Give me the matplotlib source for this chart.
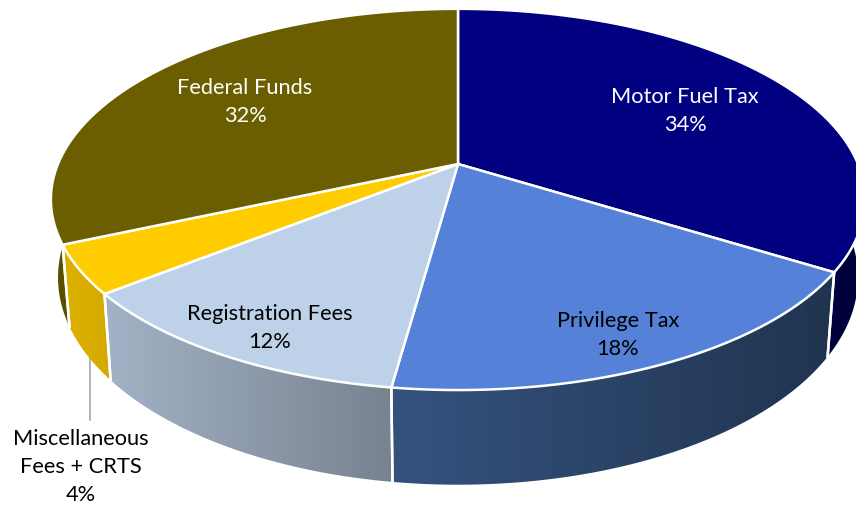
# -*- coding: utf-8 -*-
# 3D look pie: revenue sources
import numpy as np
import matplotlib
matplotlib.use('Agg')
import matplotlib.pyplot as plt
from matplotlib.patches import Polygon

labels = ['Motor Fuel Tax', 'Privilege Tax', 'Registration Fees', 'Miscellaneous\nFees + CRTS', 'Federal Funds']
shares = [33.9, 18.27, 12.1, 4.08, 31.65]
top_colors = ['#000080', '#5582D8', '#BDD2E8', '#FFCC00', '#6B5E00']
wall_left = ['#00003E', '#35527F', '#A3B2C6', '#DDB100', '#5A4F00']
wall_right = ['#00003A', '#20344F', '#788390', '#D4AA00', '#5A4F00']

plt.rcParams['font.family'] = ['Lato', 'DejaVu Sans']

fig = plt.figure(figsize=(8.56, 5.07), dpi=100)
ax = fig.add_axes([0, 0, 1, 1])
ax.axis('off')

K = 0.186  # perspective strength


def project(deg, cy, rx, ry):
    # deg runs clockwise from the back of the disc
    t = np.radians(deg)
    x, y = np.sin(t), np.cos(t)
    w = 1 + K * y
    return np.column_stack([458 + rx * x / w, cy - ry * y / w])


def top_edge(deg):
    return project(deg, 164, 400, 184)


def low_edge(deg):
    return project(deg, 239, 393, 200)


edges = np.cumsum([0] + shares) * 3.6

# walls first, front ones only
for i in range(len(shares)):
    a, b = edges[i], edges[i + 1]
    # only the part of the rim facing the viewer
    a2, b2 = max(a, 70), min(b, 290)
    arc = np.linspace(a2, b2, 120)
    pts = np.vstack([top_edge(arc), low_edge(arc)[::-1]])
    poly = Polygon(pts, closed=True, facecolor='none', edgecolor='none')
    ax.add_patch(poly)
    c1 = np.array(matplotlib.colors.to_rgb(wall_left[i]))
    c2 = np.array(matplotlib.colors.to_rgb(wall_right[i]))
    # fade left to right over the wall
    grad = np.linspace(c1, c2, 256)[None, :, :]
    im = ax.imshow(grad, extent=[pts[:, 0].min(), pts[:, 0].max(), pts[:, 1].max(), pts[:, 1].min()],
                   aspect='auto', interpolation='bilinear', zorder=1)
    im.set_clip_path(poly)
    # white seams between walls
    for e in (a, b):
        if 70 < e < 290:
            seam = np.vstack([top_edge(np.array([e])), low_edge(np.array([e]))])
            ax.plot(seam[:, 0], seam[:, 1], color='white', lw=1.8, zorder=2)

# top faces
for i in range(len(shares)):
    arc = np.linspace(edges[i], edges[i + 1], 200)
    pts = np.vstack([[[458, 164]], top_edge(arc)])
    ax.add_patch(Polygon(pts, closed=True, facecolor=top_colors[i], edgecolor='white', lw=1.8, zorder=3))

# leader for the small slice
ax.plot([90, 90], [358, 420], color='#A6A6A6', lw=1.2, zorder=0)

label_x = [685, 618, 270, 81, 245]
label_y = [111, 335, 328, 467, 102]
label_colors = ['white', 'black', 'black', 'black', 'white']
for i in range(len(shares)):
    ax.text(label_x[i], label_y[i], '%s\n%.0f%%' % (labels[i], shares[i]), ha='center', va='center',
            color=label_colors[i], fontsize=15.7, linespacing=1.5, zorder=5)

ax.set_xlim(0, 856)
ax.set_ylim(507, 0)
fig.savefig('out.png', dpi=100)
plt.close(fig)
